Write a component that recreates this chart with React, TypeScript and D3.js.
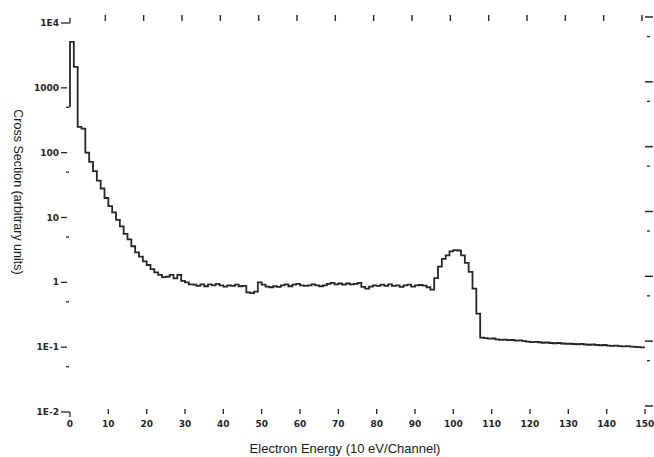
import React from "react";
import * as d3 from "d3";

// Cross section per channel (channel index 0..149)
const crossSection: number[] = [
  5100, 2100, 250, 235, 100, 72, 52, 37, 28, 20,
  15, 12, 9.2, 7.3, 5.6, 4.6, 3.6, 2.9, 2.5, 2.1,
  1.85, 1.6, 1.42, 1.3, 1.2, 1.22, 1.3, 1.15, 1.3, 1.05,
  1.0, 0.93, 0.92, 0.88, 0.93, 0.87, 0.93, 0.9, 0.95, 0.9,
  0.86, 0.9, 0.88, 0.92, 0.87, 0.88, 0.7, 0.68, 0.72, 1.0,
  0.92, 0.86, 0.84, 0.87, 0.85, 0.9, 0.93, 0.87, 0.92, 0.95,
  0.9, 0.88, 0.9, 0.93, 0.9, 0.87, 0.9, 0.95, 0.98, 0.93,
  0.96, 0.92, 0.96, 0.93, 0.95, 0.98, 0.85, 0.8, 0.86, 0.9,
  0.88, 0.92, 0.88, 0.93, 0.88, 0.9, 0.85, 0.9, 0.92, 0.86,
  0.9, 0.91, 0.89, 0.84, 0.77, 1.16, 1.75, 2.3, 2.6, 3.0,
  3.14, 3.1, 2.6, 2.0, 1.45, 0.8, 0.33, 0.14, 0.138, 0.135,
  0.136, 0.132, 0.13, 0.131, 0.128, 0.129, 0.126, 0.127, 0.124, 0.122,
  0.12, 0.121, 0.119, 0.117, 0.118, 0.116, 0.115, 0.116, 0.114, 0.113,
  0.113, 0.112, 0.111, 0.112, 0.11, 0.109, 0.11, 0.108, 0.107, 0.108,
  0.106, 0.105, 0.106, 0.104, 0.103, 0.104, 0.102, 0.101, 0.1, 0.099,
];
const startLevel = 500;

const xTicks: number[] = [0, 10, 20, 30, 40, 50, 60, 70, 80, 90, 100, 110, 120, 130, 140, 150];
const yTicks: number[] = [1e4, 1000, 100, 10, 1, 0.1, 0.01];
const yTickLabels: string[] = ["1E4", "1000", "100", "10", "1", "1E-1", "1E-2"];
const yMinorTicksLeft: number[] = [500, 50, 5, 0.5, 0.05];
const yMinorTicksRight: number[] = [5000, 500, 50, 5, 0.5, 0.05];

const xTitle = "Electron Energy (10 eV/Channel)";
const yTitle = "Cross Section (arbitrary units)";

const W = 654;
const H = 457;
const INK = "#262626";

export default function App() {
  const x = d3.scaleLinear().domain([0, 150]).range([70, 645]);
  const y = d3.scaleLog().domain([0.01, 1e4]).range([412, 23]);

  const pts: [number, number][] = [[0, startLevel]];
  crossSection.forEach((v, i) => pts.push([i, v]));
  pts.push([crossSection.length, crossSection[crossSection.length - 1]]);

  const line = d3
    .line<[number, number]>()
    .x((d) => x(d[0]))
    .y((d) => y(d[1]))
    .curve(d3.curveStepAfter);

  const rOff = -6;
  const labelFont = { fontFamily: "DejaVu Sans", fontSize: 9, fontWeight: 700, fill: INK } as const;

  return (
    <svg
      width={W}
      height={H}
      style={{ position: "absolute", left: 0, top: 0, background: "#fff" }}
    >
      <rect x={0} y={0} width={W} height={H} fill="#fff" />

      {/* left decade ticks and labels */}
      {yTicks.map((t, i) => (
        <g key={"yl" + i}>
          <line x1={61} x2={i === 0 || i === yTicks.length - 1 ? 70 : 67} y1={y(t)} y2={y(t)} stroke={INK} strokeWidth={1.3} />
          <text x={59} y={y(t)} dy="0.35em" textAnchor="end" {...labelFont}>
            {yTickLabels[i]}
          </text>
        </g>
      ))}
      {/* corner hooks */}
      <line x1={70} x2={70} y1={y(1e4)} y2={y(1e4) - 5} stroke={INK} strokeWidth={1.3} />
      <line x1={70} x2={70} y1={y(0.01)} y2={y(0.01) + 5} stroke={INK} strokeWidth={1.3} />
      {yMinorTicksLeft.map((t, i) => (
        <line key={"ym" + i} x1={66} x2={69} y1={y(t)} y2={y(t)} stroke={INK} strokeWidth={1.3} />
      ))}

      {/* right ticks */}
      {yTicks.map((t, i) => (
        <line key={"yr" + i} x1={645} x2={653} y1={y(t) + rOff} y2={y(t) + rOff} stroke={INK} strokeWidth={1.5} />
      ))}
      {yMinorTicksRight.map((t, i) => (
        <line key={"yrm" + i} x1={647} x2={650} y1={y(t) + rOff} y2={y(t) + rOff} stroke={INK} strokeWidth={1.3} />
      ))}

      {/* bottom ticks and labels */}
      {xTicks.map((t, i) => (
        <g key={"xb" + i}>
          {t !== 0 && (
            <line x1={x(t)} x2={x(t)} y1={409} y2={414} stroke={INK} strokeWidth={1.3} />
          )}
          <text x={x(t)} y={427} textAnchor="middle" {...labelFont}>
            {t}
          </text>
        </g>
      ))}

      {/* top ticks */}
      {xTicks
        .filter((t) => t !== 0)
        .map((t, i) => (
          <line key={"xt" + i} x1={x(t) - 3} x2={x(t) - 3} y1={15} y2={21} stroke={INK} strokeWidth={1.4} />
        ))}

      {/* data */}
      <path d={line(pts) || ""} fill="none" stroke={INK} strokeWidth={1.8} strokeLinejoin="miter" />

      {/* axis titles */}
      <text
        x={345}
        y={453}
        textAnchor="middle"
        fontFamily="Liberation Sans, Arial, sans-serif"
        fontSize={13}
        fill="#1a1a1a"
      >
        {xTitle}
      </text>
      <text
        transform={`translate(14,192) rotate(90)`}
        textAnchor="middle"
        fontFamily="Liberation Sans, Arial, sans-serif"
        fontSize={12.5}
        fill="#1a1a1a"
      >
        {yTitle}
      </text>
    </svg>
  );
}
